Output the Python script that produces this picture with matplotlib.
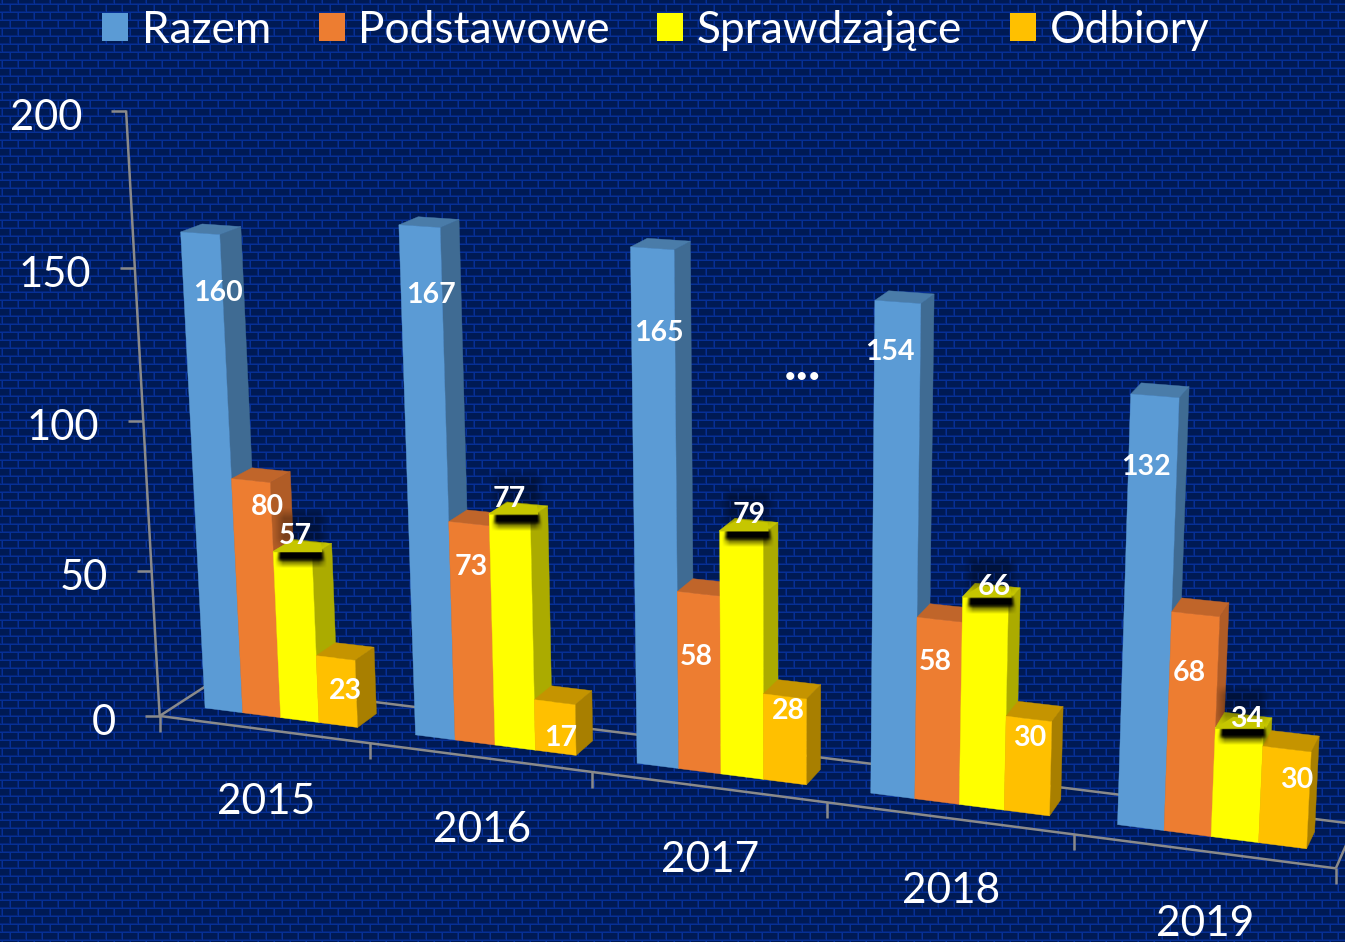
import numpy as np
import matplotlib
matplotlib.use("Agg")
import matplotlib.pyplot as plt
from matplotlib.patches import Polygon, Patch

# ---- data ----
years = ["2015", "2016", "2017", "2018", "2019"]
razem = [160, 167, 165, 154, 132]
podstawowe = [80, 73, 58, 58, 68]
sprawdzajace = [57, 77, 79, 66, 34]
odbiory = [23, 17, 28, 30, 30]
series_names = ["Razem", "Podstawowe", "Sprawdzające", "Odbiory"]
y_ticks = [0, 50, 100, 150, 200]

# ---- style ----
front_cols = ["#5B9BD5", "#ED7D31", "#FFFF00", "#FFC000"]
side_cols = ["#3F6B93", "#B05C26", "#ABAB00", "#A87F00"]
top_cols = ["#4A7CA9", "#C0652A", "#C6C600", "#C59400"]
AXIS = "#8A8A8A"
FONT = "Lato"
W, H = 1345, 942

# ---- camera: maps (category, depth, value) to pixels, calibrated on the frame ----
anchors = [
    ((0, 0, 0), (160, 714)), ((1, 0, 0), (371, 744)), ((4, 0, 0), (1074, 834)),
    ((5, 0, 0), (1336, 868)), ((0, 1, 0), (213, 682)), ((5, 1, 0), (1356, 821)),
    ((0, 0, 200), (127, 110)), ((0, 0, 150), (133, 268)), ((0, 0, 100), (145, 421)),
    ((0, 0, 50), (152, 568)),
    ((0.135, .33, 160), (180, 233)), ((1.135, .33, 167), (399, 225)),
    ((2.135, .33, 165), (630, 247)), ((3.135, .33, 154), (875, 300)),
    ((4.135, .33, 132), (1131, 395)),
    ((0.135, .33, 0), (204, 708)), ((1.135, .33, 0), (415, 737)),
    ((2.135, .33, 0), (637, 765)), ((3.135, .33, 0), (870, 795)),
    ((4.135, .33, 0), (1117, 825)),
]
rows = []
for (u, d, v), (px, py) in anchors:
    Xw = np.array([u, d, v / 100, 1.0])
    rows.append(np.r_[Xw, 0, 0, 0, 0, -px / 1000 * Xw])
    rows.append(np.r_[0, 0, 0, 0, Xw, -py / 1000 * Xw])
P = np.linalg.svd(np.array(rows))[2][-1].reshape(3, 4)


def proj(u, d, v):
    q = P @ np.array([u, d, v / 100, 1.0])
    return q[0] / q[2] * 1000, q[1] / q[2] * 1000


fig = plt.figure(figsize=(W / 100, H / 100), dpi=100)
ax = fig.add_axes([0, 0, 1, 1])
ax.set_axis_off()
ax.set_autoscale_on(False)

# ---- brick background ----
yy, xx = np.mgrid[0:H, 0:W]
row = (yy - 4) // 8
py_ = (yy - 4) % 8
px_ = (xx - 10 + 8 * (row % 2)) % 16
img = np.empty((H, W, 3))
img[:] = (0, 26, 84)
img[(py_ == 7) | (px_ == 15)] = (4, 36, 118)
img[(py_ == 0) | (px_ == 0)] = (6, 48, 150)
ax.imshow(img / 255, extent=(0, W, H, 0), aspect="auto", zorder=0, interpolation="nearest")


def soft_rect(x0, x1, y0, y1, blur, alpha, z):
    xs = np.arange(x0 - 3 * blur, x1 + 3 * blur, 1.0) + .5
    ys = np.arange(y0 - 3 * blur, y1 + 3 * blur, 1.0) + .5
    prof = lambda t, a, b: np.clip((t - a + blur) / (2 * blur), 0, 1) * np.clip((b - t + blur) / (2 * blur), 0, 1)
    a = np.outer(prof(ys, y0, y1), prof(xs, x0, x1)) * alpha
    rgba = np.zeros(a.shape + (4,))
    rgba[..., 3] = a
    ax.imshow(rgba, extent=(xs[0] - .5, xs[-1] + .5, ys[-1] + .5, ys[0] - .5),
              aspect="auto", zorder=z, interpolation="bilinear")


# ---- frame ----
def seg(a, b, z=1):
    ax.plot(*zip(a, b), color=AXIS, lw=1.8, zorder=z, solid_capstyle="butt")


seg(proj(0, 0, 0), proj(0, 0, 200))
seg(proj(0, 0, 0), proj(5, 0, 0), z=6)
seg(proj(0, 0, 0), proj(0, 1, 0))
seg(proj(0, 1, 0), proj(5, 1, 0))
seg(proj(5, 0, 0), proj(5, 1, 0))
for t in y_ticks:
    x, y = proj(0, 0, t)
    seg((x - 15, y), (x, y))
    ax.text(x - 44, y + 7, str(t), color="white", fontsize=30, family=FONT,
            ha="right", va="center", zorder=9)
for i in [0, 1, 2, 3, 4, 5]:
    x, y = proj(i, 0, 0)
    seg((x, y), (x, y + 16), z=6)
for i, yr in enumerate(years):
    x, y = proj(i + .5, 0, 0)
    ax.text(x + 2, y + 73, yr, color="white", fontsize=30.5, family=FONT,
            ha="center", va="center", zorder=9)

# ---- bars ----
series = [razem, podstawowe, sprawdzajace, odbiory]
U0, BW, D0, D1 = .135, .1825, .33, .72
z = 2.0
for i in range(len(years)):
    for j, vals in enumerate(series):
        v = vals[i]
        u0, u1 = i + U0 + j * BW, i + U0 + (j + 1) * BW
        faces = [
            ([(u1, D0, 0), (u1, D1, 0), (u1, D1, v), (u1, D0, v)], side_cols[j]),
            ([(u0, D0, v), (u1, D0, v), (u1, D1, v), (u0, D1, v)], top_cols[j]),
            ([(u0, D0, 0), (u1, D0, 0), (u1, D0, v), (u0, D0, v)], front_cols[j]),
        ]
        for pts, col in faces:
            ax.add_patch(Polygon([proj(*p) for p in pts], closed=True, facecolor=col,
                                 edgecolor=col, lw=.3, zorder=z))
            z += .001

# ---- shadowed caps of the Sprawdzające bars, as in the reference ----
for i, v in enumerate(sprawdzajace):
    u0 = i + U0 + 2 * BW
    x, y = proj(u0, D0, v)
    soft_rect(x + 6, x + 50, y + 0, y + 9, 2, 1.0, 3.0)
    soft_rect(x + 6, x + 50, y + 4, y + 13, 4, .7, 3.01)
    ax.add_patch(Polygon([(x - 1, y + 1), (x + 49, y + 1), (x + 48, y - 8), (x + 18, y - 11)],
                         closed=True, facecolor=top_cols[2], edgecolor="none", zorder=3.1))
    soft_rect(x + 6, x + 50, y - 38, y - 8, 5, .3, 3.05)

# ---- value labels ----
label_xy = [
    [(218, 293), (431, 295), (659, 333), (890, 352), (1146, 467)],
    [(267, 507), (471, 567), (696, 657), (935, 662), (1189, 673)],
    [(295, 536), (509, 499), (749, 515), (994, 587), (1247, 719)],
    [(345, 691), (561, 738), (788, 711), (1030, 738), (1297, 780)],
]
for vals, xys in zip(series, label_xy):
    for v, (x, y) in zip(vals, xys):
        ax.text(x, y, str(v), color="white", fontsize=20.5, family=FONT, weight="bold",
                ha="center", va="center", zorder=8)
ax.text(802, 364, "...", color="white", fontsize=38, family=FONT, weight="bold",
        ha="center", va="center", zorder=8)

# ---- legend ----
F = 31.9 * 100 / 72
handles = [Patch(facecolor=c, edgecolor="none", label=n) for c, n in zip(front_cols, series_names)]
ax.legend(handles=handles, ncol=4, loc="upper left", bbox_to_anchor=(102 / W, 1.0 - 10 / H), frameon=False,
          prop={"family": FONT, "size": 31.9}, labelcolor="white",
          handlelength=26 / F, handleheight=26 / F, handletextpad=13.5 / F,
          columnspacing=47.8 / F, borderpad=0, borderaxespad=0)

ax.set_xlim(0, W)
ax.set_ylim(H, 0)
fig.savefig("out.png", dpi=100)
